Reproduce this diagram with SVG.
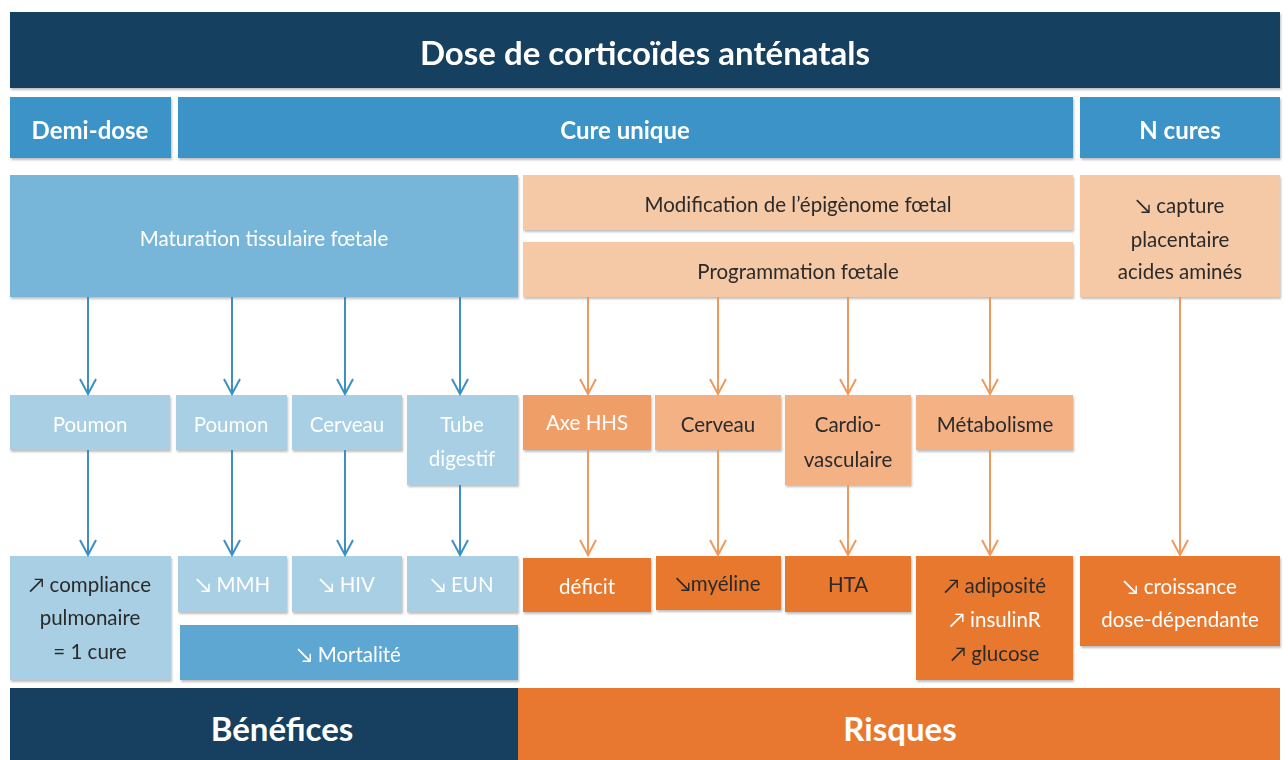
<svg xmlns="http://www.w3.org/2000/svg" width="1288" height="760" viewBox="0 0 1288 760">
<style>
text{font-family:Lato,"Open Sans","Liberation Sans",sans-serif;text-anchor:middle;dominant-baseline:central}
.navy{fill:#173f5f}
.blue{fill:#3a93c8}
.mblue{fill:#78b6d9}
.lblue{fill:#a8cfe4}
.mort{fill:#5ea7d3}
.peach{fill:#f5c9a6}
.lor{fill:#f4b184}
.axe{fill:#f09e67}
.dor{fill:#e8782f}
.big{font-size:33px;font-weight:bold;fill:#fff}
.hd{font-size:24px;font-weight:bold;fill:#fff}
.w{font-size:20.5px;fill:#fff}
.d{font-size:20.5px;fill:#2b2b2b}
.cb{stroke:#3b8fc4;stroke-width:2;fill:none}
.co{stroke:#ee9a5e;stroke-width:2;fill:none}
</style>
<defs>
<filter id="sh" x="-5%" y="-5%" width="110%" height="115%">
<feDropShadow dx="1" dy="2" stdDeviation="1.2" flood-color="#000" flood-opacity="0.25"/>
</filter>
<marker id="ab" markerWidth="18" markerHeight="18" refX="16" refY="9" orient="auto" markerUnits="userSpaceOnUse" viewBox="0 0 18 18">
<path d="M1,1 L16,9 L1,17" fill="none" stroke="#3b8fc4" stroke-width="2"/>
</marker>
<marker id="ao" markerWidth="18" markerHeight="18" refX="16" refY="9" orient="auto" markerUnits="userSpaceOnUse" viewBox="0 0 18 18">
<path d="M1,1 L16,9 L1,17" fill="none" stroke="#ee9a5e" stroke-width="2"/>
</marker>
</defs>
<rect width="1288" height="760" fill="#fff"/>

<g id="title" filter="url(#sh)"><rect class="navy" x="10" y="12" width="1270" height="76"/><text class="big" x="645" y="52">Dose de corticoïdes anténatals</text></g>

<g id="demi" filter="url(#sh)"><rect class="blue" x="10" y="97" width="161" height="61"/><text class="hd" x="90" y="129">Demi-dose</text></g>
<g id="cure" filter="url(#sh)"><rect class="blue" x="178" y="97" width="895" height="61"/><text class="hd" x="625" y="129">Cure unique</text></g>
<g id="ncures" filter="url(#sh)"><rect class="blue" x="1080" y="97" width="200" height="61"/><text class="hd" x="1180" y="129">N cures</text></g>

<g id="maturation" filter="url(#sh)"><rect class="mblue" x="10" y="175" width="508" height="122"/><text class="w" x="264" y="238">Maturation tissulaire fœtale</text></g>
<g id="modif" filter="url(#sh)"><rect class="peach" x="523" y="175" width="550" height="55"/><text class="d" x="798" y="204">Modification de l’épigènome fœtal</text></g>
<g id="prog" filter="url(#sh)"><rect class="peach" x="523" y="242" width="550" height="55"/><text class="d" x="798" y="271">Programmation fœtale</text></g>
<g id="capture" filter="url(#sh)"><rect class="peach" x="1080" y="175" width="200" height="122"/><text class="d" x="1180" y="205">↘ capture</text><text class="d" x="1180" y="239">placentaire</text><text class="d" x="1180" y="271">acides aminés</text></g>

<g id="poumon1" filter="url(#sh)"><rect class="lblue" x="10" y="395" width="160" height="55"/><text class="w" x="90" y="424">Poumon</text></g>
<g id="poumon2" filter="url(#sh)"><rect class="lblue" x="176" y="395" width="111" height="55"/><text class="w" x="231" y="424">Poumon</text></g>
<g id="cerveau1" filter="url(#sh)"><rect class="lblue" x="292" y="395" width="110" height="55"/><text class="w" x="347" y="424">Cerveau</text></g>
<g id="tube" filter="url(#sh)"><rect class="lblue" x="407" y="395" width="111" height="90"/><text class="w" x="462" y="424">Tube</text><text class="w" x="462" y="458">digestif</text></g>
<g id="axe" filter="url(#sh)"><rect class="axe" x="523" y="395" width="128" height="55"/><text class="w" x="587" y="422">Axe HHS</text></g>
<g id="cerveau2" filter="url(#sh)"><rect class="lor" x="655" y="395" width="126" height="55"/><text class="d" x="718" y="424">Cerveau</text></g>
<g id="cardio" filter="url(#sh)"><rect class="lor" x="785" y="395" width="126" height="90"/><text class="d" x="848" y="424">Cardio-</text><text class="d" x="848" y="459">vasculaire</text></g>
<g id="metab" filter="url(#sh)"><rect class="lor" x="916" y="395" width="157" height="55"/><text class="d" x="995" y="424">Métabolisme</text></g>

<g id="compliance" filter="url(#sh)"><rect class="lblue" x="10" y="556" width="161" height="124"/><text class="d" x="90" y="584">↗ compliance</text><text class="d" x="90" y="617">pulmonaire</text><text class="d" x="90" y="651">= 1 cure</text></g>
<g id="mmh" filter="url(#sh)"><rect class="lblue" x="178" y="556" width="109" height="56"/><text class="w" x="233" y="584">↘ MMH</text></g>
<g id="hiv" filter="url(#sh)"><rect class="lblue" x="292" y="556" width="110" height="56"/><text class="w" x="347" y="584">↘ HIV</text></g>
<g id="eun" filter="url(#sh)"><rect class="lblue" x="407" y="556" width="111" height="56"/><text class="w" x="462" y="584">↘ EUN</text></g>
<g id="mortalite" filter="url(#sh)"><rect class="mort" x="180" y="625" width="338" height="55"/><text class="w" x="349" y="654">↘ Mortalité</text></g>
<g id="deficit" filter="url(#sh)"><rect class="dor" x="523" y="558" width="128" height="54"/><text class="w" x="587" y="586">déficit</text></g>
<g id="myeline" filter="url(#sh)"><rect class="dor" x="656" y="556" width="125" height="54"/><text class="d" x="718" y="583">↘myéline</text></g>
<g id="hta" filter="url(#sh)"><rect class="dor" x="785" y="556" width="126" height="56"/><text class="d" x="848" y="584">HTA</text></g>
<g id="adipo" filter="url(#sh)"><rect class="dor" x="916" y="556" width="157" height="124"/><text class="d" x="995" y="585">↗ adiposité</text><text class="w" x="995" y="619">↗ insulinR</text><text class="d" x="995" y="653">↗ glucose</text></g>
<g id="croissance" filter="url(#sh)"><rect class="dor" x="1080" y="556" width="200" height="90"/><text class="w" x="1180" y="586">↘ croissance</text><text class="w" x="1180" y="619">dose-dépendante</text></g>

<g id="benefices"><rect class="navy" x="10" y="688" width="508" height="72"/><text class="big" x="282" y="728">Bénéfices</text></g>
<g id="risques"><rect class="dor" x="518" y="688" width="762" height="72"/><text class="big" x="900" y="728">Risques</text></g>

<g id="connectors">
<path class="cb" marker-end="url(#ab)" d="M88,297V394"/>
<path class="cb" marker-end="url(#ab)" d="M232,297V394"/>
<path class="cb" marker-end="url(#ab)" d="M345,297V394"/>
<path class="cb" marker-end="url(#ab)" d="M460,297V394"/>
<path class="cb" marker-end="url(#ab)" d="M88,450V555"/>
<path class="cb" marker-end="url(#ab)" d="M232,450V555"/>
<path class="cb" marker-end="url(#ab)" d="M345,450V555"/>
<path class="cb" marker-end="url(#ab)" d="M460,485V555"/>
<path class="co" marker-end="url(#ao)" d="M588,297V394"/>
<path class="co" marker-end="url(#ao)" d="M718,297V394"/>
<path class="co" marker-end="url(#ao)" d="M848,297V394"/>
<path class="co" marker-end="url(#ao)" d="M990,297V394"/>
<path class="co" marker-end="url(#ao)" d="M588,450V555"/>
<path class="co" marker-end="url(#ao)" d="M718,450V555"/>
<path class="co" marker-end="url(#ao)" d="M848,485V555"/>
<path class="co" marker-end="url(#ao)" d="M990,450V555"/>
<path class="co" marker-end="url(#ao)" d="M1180,297V555"/>
</g>
</svg>
